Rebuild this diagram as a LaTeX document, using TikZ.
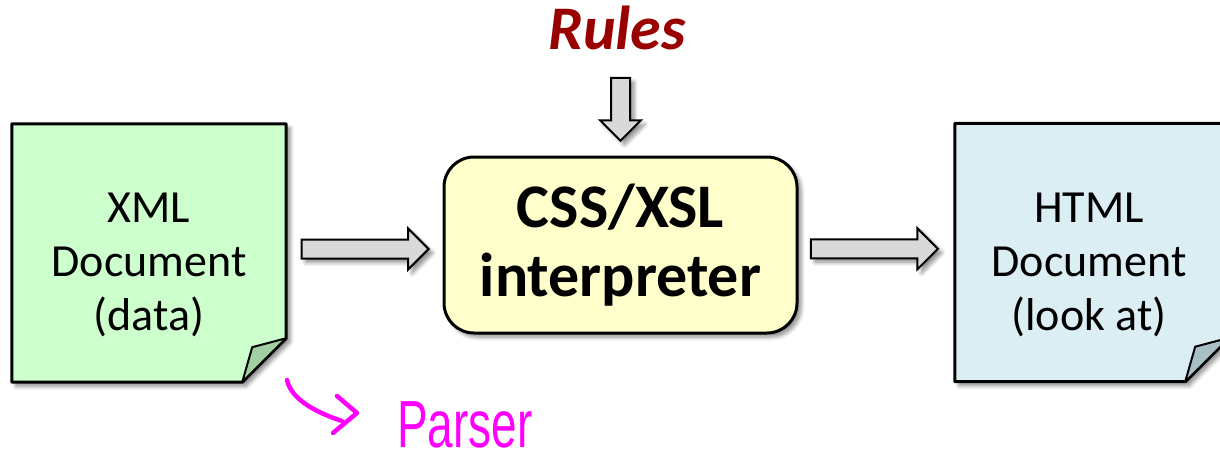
\documentclass[tikz,border=0pt]{standalone}
\usepackage{fontspec}
\setmainfont{Carlito}
\newfontfamily\handfont{Liberation Sans}
\usetikzlibrary{shapes.arrows,shadows.blur,calc}
\definecolor{notegreen}{HTML}{CCFFCC}
\definecolor{flapgreen}{HTML}{A3D0A3}
\definecolor{noteblue}{HTML}{DAEEF3}
\definecolor{flapblue}{HTML}{A9BFC6}
\definecolor{boxyellow}{HTML}{FFFFCC}
\definecolor{arrowgrey}{HTML}{D9D9D9}
\definecolor{rulesred}{HTML}{990000}
\definecolor{inkpink}{HTML}{FF00FF}
\tikzset{
  softshadow/.style={blur shadow={shadow xshift=4pt, shadow yshift=-4pt, shadow blur steps=6, shadow blur radius=4pt, shadow opacity=45}},
  noteframe/.style={minimum width=274pt, minimum height=258pt, inner sep=0pt, draw=none},
  notepath/.style={draw=black, line width=3pt, line join=round, softshadow},
  flappath/.style={draw=black, line width=2pt, line join=round},
  notetext/.style={align=center, inner sep=0pt, font=\fontsize{46}{54}\selectfont},
  blockarrow/.style={single arrow, draw=black, line width=2pt, fill=arrowgrey, inner xsep=0pt, inner ysep=8.5pt, single arrow head extend=11pt, single arrow head indent=0pt, softshadow},
  interp/.style={draw=black, line width=3pt, fill=boxyellow, rounded corners=30pt, minimum width=353pt, minimum height=176pt, align=center, inner sep=0pt, font=\bfseries\fontsize{62}{69}\selectfont, softshadow},
  ink/.style={draw=inkpink, line width=4.5pt, line cap=round, line join=round}
}
\begin{document}
\begin{tikzpicture}[x=1pt,y=-1pt]
\useasboundingbox (0,0) rectangle (1220,460);

% XML note
\node[noteframe] (xml) at (149,253) {};
\path[notepath, fill=notegreen] (xml.north west) -- (xml.north east) -- ($(xml.south east)+(0,-44)$) -- ($(xml.south east)+(-44,0)$) -- (xml.south west) -- cycle;
\path[flappath, fill=flapgreen] ($(xml.south east)+(0,-44)$) -- ($(xml.south east)+(-34,-35)$) -- ($(xml.south east)+(-44,0)$) -- cycle;
\node[notetext] (xmltext) at ($(xml.center)+(0,11.5)$) {XML\\Document\\(data)};

% HTML note
\node[noteframe] (html) at (1092,252.5) {};
\path[notepath, fill=noteblue] (html.north west) -- (html.north east) -- ($(html.south east)+(0,-44)$) -- ($(html.south east)+(-44,0)$) -- (html.south west) -- cycle;
\path[flappath, fill=flapblue] ($(html.south east)+(0,-44)$) -- ($(html.south east)+(-34,-35)$) -- ($(html.south east)+(-44,0)$) -- cycle;
\node[notetext] (htmltext) at ($(html.center)+(-3,12)$) {HTML\\Document\\(look at)};

% interpreter
\node[interp] (css) at (620.5,245) {CSS/XSL\\interpreter};

% Rules
\node[anchor=base, inner sep=0pt, text=rulesred, font=\bfseries\itshape\fontsize{62}{70}\selectfont] (rules) at (617,50) {Rules};

% block arrows
\node[blockarrow, minimum height=63pt, rotate=-90] (arrdown) at ($(css.north)+(0,-51)$) {};
\node[blockarrow, minimum height=127pt] (arrleft) at ($(xml.east)!0.5!(css.west)+(-4,0)$) {};
\node[blockarrow, minimum height=127pt] (arrright) at ($(css.east)!0.5!(html.west)+(-7,0)$) {};

% handwritten Parser
\coordinate (inkstart) at (287,380);
\coordinate (inkend) at (342,421);
\draw[ink] (inkstart) .. controls (291,398) and (312,411) .. (inkend);
\draw[ink] (337,396) -- (357,413) -- (333,433);
\node[anchor=base west, inner sep=0pt, text=inkpink, font=\handfont\fontsize{46}{50}\selectfont, yscale=1.45, xscale=1.0] (parser) at (397,447) {Parser};
\end{tikzpicture}
\end{document}
